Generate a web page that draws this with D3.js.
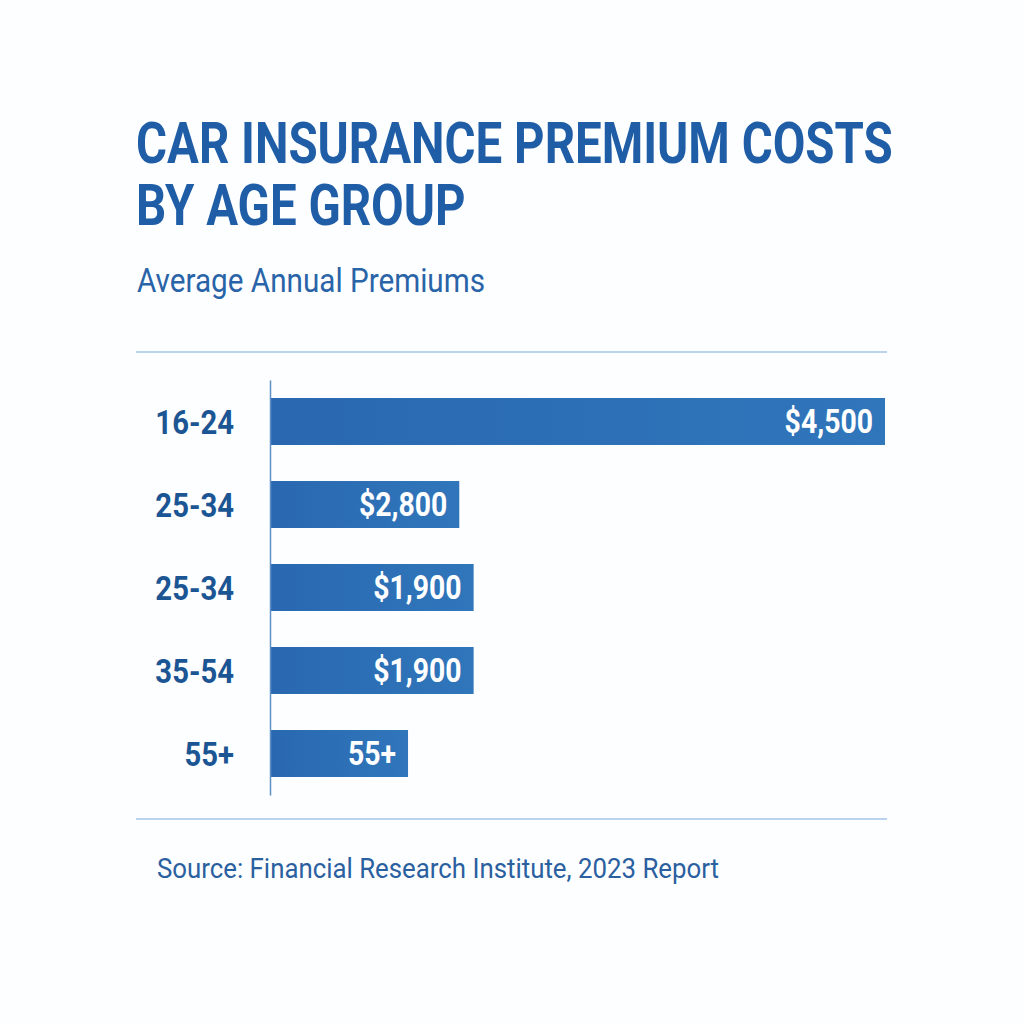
<!DOCTYPE html>
<html>
<head>
<meta charset="utf-8">
<script src="https://cdn.jsdelivr.net/npm/d3@7"></script>
<style>
  html, body { margin: 0; padding: 0; background: #ffffff; }
  svg { display: block; }
</style>
</head>
<body>
<script>
// ---- data ----
const titleLines = ["CAR INSURANCE PREMIUM COSTS", "BY AGE GROUP"];
const subtitle = "Average Annual Premiums";
const source = "Source: Financial Research Institute, 2023 Report";
const categories = ["16-24", "25-34", "25-34", "35-54", "55+"];
// bar lengths as drawn (in dollars on the chart's scale)
const barValues = [4500, 1385, 1490, 1490, 1010];
// text printed inside each bar
const valueLabels = ["$4,500", "$2,800", "$1,900", "$1,900", "55+"];
const xMax = 4500;

const W = 1024, H = 1024;
const svg = d3.select("body").append("svg").attr("width", W).attr("height", H);
svg.append("rect").attr("width", W).attr("height", H).attr("fill", "#fdfeff");

const defs = svg.append("defs");
const grad = defs.append("linearGradient").attr("id", "barGrad")
  .attr("x1", "0%").attr("x2", "100%").attr("y1", "0%").attr("y2", "0%");
grad.append("stop").attr("offset", "0%").attr("stop-color", "#2968b0");
grad.append("stop").attr("offset", "100%").attr("stop-color", "#3076bb");

const FONT = "Roboto, 'Noto Sans', sans-serif";

function condense(sel, factor) {
  sel.each(function () {
    const w = this.getComputedTextLength();
    d3.select(this).attr("textLength", w * factor).attr("lengthAdjust", "spacingAndGlyphs");
  });
}

// ---- title (condensed with a horizontal scale transform) ----
const titleG = svg.append("g");
const titleRows = titleG.selectAll("g").data(titleLines).join("g");
const titleTexts = titleRows.append("text")
  .attr("x", 0).attr("y", 0)
  .attr("font-family", FONT)
  .attr("font-weight", 700)
  .attr("font-size", 58)
  .attr("fill", "#1f5ea7")
  .text(d => d);
const firstW = titleTexts.nodes()[0].getComputedTextLength();
const titleFactor = 757 / firstW;
titleRows.attr("transform", (d, i) => `translate(136,${163 + i * 62}) scale(${titleFactor},1)`);

const sub = svg.append("text")
  .attr("x", 137).attr("y", 292)
  .attr("font-family", FONT).attr("font-weight", 400)
  .attr("font-size", 33).attr("fill", "#2964a8")
  .text(subtitle);
sub.attr("textLength", 348).attr("lengthAdjust", "spacingAndGlyphs");

// ---- rules ----
svg.append("line").attr("x1", 136).attr("x2", 887).attr("y1", 352).attr("y2", 352)
  .attr("stroke", "#b9d4ec").attr("stroke-width", 2);
svg.append("line").attr("x1", 136).attr("x2", 887).attr("y1", 819).attr("y2", 819)
  .attr("stroke", "#b9d4ec").attr("stroke-width", 2);

// ---- scales ----
const x = d3.scaleLinear().domain([0, xMax]).range([270, 885]);
const y = d3.scaleBand().domain(d3.range(categories.length))
  .range([380, 795]).paddingInner(0.434).paddingOuter(0.217);

// ---- bars ----
svg.append("g").selectAll("rect").data(barValues).join("rect")
  .attr("x", x(0))
  .attr("y", (d, i) => y(i))
  .attr("width", d => x(d) - x(0))
  .attr("height", y.bandwidth())
  .attr("fill", "url(#barGrad)");

// ---- axis ----
const axis = d3.axisLeft(y).tickSize(0).tickSizeOuter(0).tickPadding(36)
  .tickFormat(i => categories[i]);
const axG = svg.append("g").attr("transform", `translate(${x(0)},0)`).call(axis);
axG.select(".domain").attr("stroke", "#5f8fc4").attr("stroke-width", 1.5);
const axLabels = axG.selectAll(".tick text")
  .attr("font-family", FONT).attr("font-weight", 700)
  .attr("font-size", 34).attr("fill", "#1c5593")
  .attr("dy", "0.36em");
condense(axLabels, 0.86);

// ---- value labels ----
const vl = svg.append("g").selectAll("text").data(barValues).join("text")
  .attr("x", d => x(d) - 12)
  .attr("y", (d, i) => y(i) + y.bandwidth() / 2)
  .attr("dy", "0.36em")
  .attr("text-anchor", "end")
  .attr("font-family", FONT).attr("font-weight", 700)
  .attr("font-size", 33).attr("fill", "#ffffff")
  .text((d, i) => valueLabels[i]);
condense(vl, 0.86);

// ---- source ----
const src = svg.append("text")
  .attr("x", 157).attr("y", 878)
  .attr("font-family", FONT).attr("font-weight", 400)
  .attr("font-size", 27).attr("fill", "#2a60a0")
  .text(source);
src.attr("textLength", 562).attr("lengthAdjust", "spacingAndGlyphs");
</script>
</body>
</html>
